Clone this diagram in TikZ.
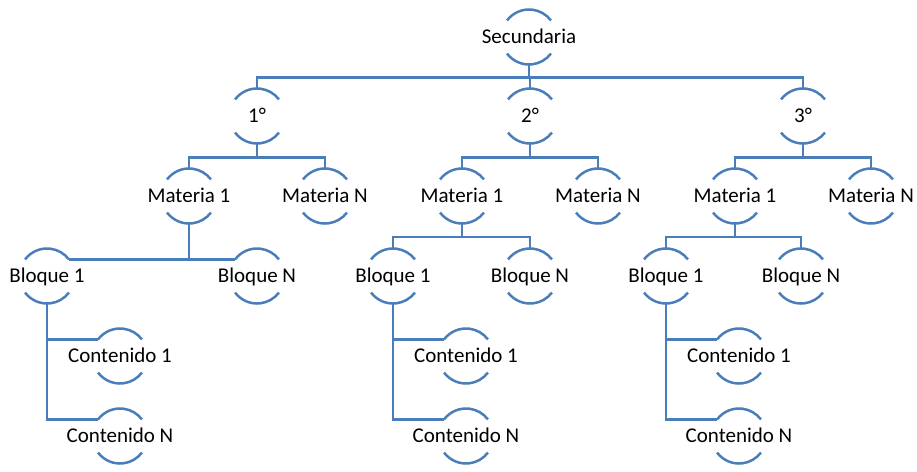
\documentclass[tikz,border=0pt]{standalone}
\usepackage{fontspec}
\setmainfont{Carlito}
\definecolor{arcblue}{RGB}{74,126,187}

\begin{document}
\begin{tikzpicture}[x=1pt,y=1pt,
        main/.style = {circle, minimum size=55pt, inner sep=0pt, outer sep=0pt, label={center:#1}},
        every label/.style = {font=\fontsize{21}{25}\selectfont, inner sep=0pt, text height=13pt, text depth=0pt},
        link/.style = {draw=arcblue, line width=2.5pt}]
        \useasboundingbox (0,0) rectangle (917,-471);
        \node[main=Secundaria] (s) at (529,-37) {};
        \node[main=1°] (g1) at (257,-116) {};
        \node[main=2°] (g2) at (530,-116) {};
        \node[main=3°] (g3) at (803,-116) {};
        \node[main=Materia 1] (m11) at (189,-196) {};
        \node[main=Materia N] (m1n) at (325,-196) {};
        \node[main=Materia 1] (m21) at (462,-196) {};
        \node[main=Materia N] (m2n) at (598,-196) {};
        \node[main=Materia 1] (m31) at (735,-196) {};
        \node[main=Materia N] (m3n) at (871,-196) {};
        \node[main=Bloque 1] (b11) at (47,-276) {};
        \node[main=Bloque N] (b1n) at (257,-276) {};
        \node[main=Bloque 1] (b21) at (393,-276) {};
        \node[main=Bloque N] (b2n) at (530,-276) {};
        \node[main=Bloque 1] (b31) at (666,-276) {};
        \node[main=Bloque N] (b3n) at (801,-276) {};
        \node[main=Contenido 1] (c11) at (120,-356) {};
        \node[main=Contenido N] (c1n) at (120,-436) {};
        \node[main=Contenido 1] (c21) at (466,-356) {};
        \node[main=Contenido N] (c2n) at (466,-436) {};
        \node[main=Contenido 1] (c31) at (739,-356) {};
        \node[main=Contenido N] (c3n) at (739,-436) {};
        % arcs above and below each text
        \foreach \n in {s,g1,g2,g3,m11,m1n,m21,m2n,m31,m3n,b11,b1n,b21,b2n,b31,b3n,c11,c1n,c21,c2n,c31,c3n} {
            \draw[link] (\n.143) arc[start angle=143, end angle=37, radius=27.5pt];
            \draw[link] (\n.-143) arc[start angle=-143, end angle=-37, radius=27.5pt];
        }
        \draw[link] (s.south) -- ++(0,-13) -| (g1.north);
        \draw[link] (s.south) -- ++(0,-13) -| (g2.north);
        \draw[link] (s.south) -- ++(0,-13) -| (g3.north);
        \draw[link] (g1.south) -- ++(0,-14) -| (m11.north);
        \draw[link] (g1.south) -- ++(0,-14) -| (m1n.north);
        \draw[link] (g2.south) -- ++(0,-14) -| (m21.north);
        \draw[link] (g2.south) -- ++(0,-14) -| (m2n.north);
        \draw[link] (g3.south) -- ++(0,-14) -| (m31.north);
        \draw[link] (g3.south) -- ++(0,-14) -| (m3n.north);
        \draw[link] (m11.south) |- (b11.37);
        \draw[link] (b11.37) -- (b1n.143);
        \draw[link] (m21.south) -- ++(0,-13.5) -| (b21.north);
        \draw[link] (m21.south) -- ++(0,-13.5) -| (b2n.north);
        \draw[link] (m31.south) -- ++(0,-13.5) -| (b31.north);
        \draw[link] (m31.south) -- ++(0,-13.5) -| (b3n.north);
        \draw[link] (b11.south) |- (c11.143);
        \draw[link] (b11.south) |- (c1n.143);
        \draw[link] (b21.south) |- (c21.143);
        \draw[link] (b21.south) |- (c2n.143);
        \draw[link] (b31.south) |- (c31.143);
        \draw[link] (b31.south) |- (c3n.143);
\end{tikzpicture}
\end{document}
